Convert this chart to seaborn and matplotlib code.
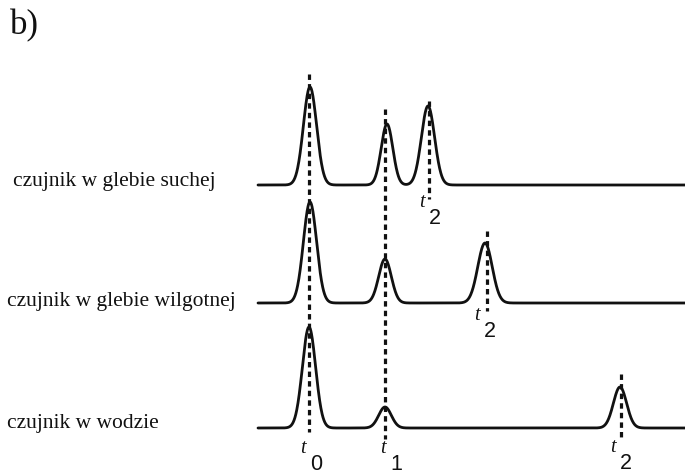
import numpy as np
import pandas as pd
import matplotlib
matplotlib.use("Agg")
import matplotlib.pyplot as plt
import seaborn as sns

# ---- data (time axis / signal level in picture units) ----
trace_labels = ["czujnik w glebie suchej", "czujnik w glebie wilgotnej", "czujnik w wodzie"]
baselines = [186, 304, 429]              # signal baseline of each trace
trace_start = [258, 258, 258]             # where each trace begins
trace_end = 685
peak_centers = [[310, 387, 428], [310, 385, 485], [309, 385, 620]]
peak_heights = [[98, 61, 79], [101, 44, 60], [101, 21, 41]]
peak_widths = [[6.6, 5.8, 6.6], [6.6, 6.3, 7.2], [6.6, 6.3, 6.6]]
t0_pos, t1_pos = 309, 385
t2_pos = [429, 487, 621]
t0_span = (75, 433)
t1_span = (110, 440)
t2_spans = [(102, 200), (232, 312), (375, 440)]
t_label_names = ["0", "1", "2"]

# ---- build the traces ----
rows = []
for i, lab in enumerate(trace_labels):
    x = np.linspace(trace_start[i], trace_end, 1400)
    y = np.full_like(x, baselines[i], dtype=float)
    for c, h, w in zip(peak_centers[i], peak_heights[i], peak_widths[i]):
        y = y - h * np.exp(-0.5 * ((x - c) / w) ** 2)
    rows.append(pd.DataFrame({"t": x, "signal": y, "trace": lab}))
df = pd.concat(rows, ignore_index=True)

sns.set_theme(style="white")
plt.rcParams["font.family"] = ["Liberation Serif", "DejaVu Serif"]

fig = plt.figure(figsize=(6.85, 4.77), dpi=100)
ax = fig.add_axes([0, 0, 1, 1])
sns.lineplot(data=df, x="t", y="signal", hue="trace", units="trace",
             estimator=None, sort=False, palette=["#111111"] * 3,
             linewidth=2.0, legend=False, ax=ax)

dash = (0, (1.7, 1.3))
ax.vlines(t0_pos, *t0_span, colors="#111111", linewidth=2.3, linestyles=[dash])
ax.vlines(t1_pos, *t1_span, colors="#111111", linewidth=2.3, linestyles=[dash])
for xp, sp in zip(t2_pos, t2_spans):
    ax.vlines(xp, *sp, colors="#111111", linewidth=2.3, linestyles=[dash])

ax.set_xlim(0, 685)
ax.set_ylim(477, 0)
ax.axis("off")

# trace labels
label_x = [13, 7, 7]
label_y = [182, 302, 424]
for lab, lx, ly in zip(trace_labels, label_x, label_y):
    ax.text(lx, ly, lab, fontsize=15.5, ha="left", va="center", color="#111111")

# time markers
def tlabel(x, y, sub):
    ax.text(x, y, "t", fontsize=14.5, style="italic", ha="center", va="center",
            color="#111111")
    ax.text(x + 13, y + 16, sub, fontsize=15.5, ha="center", va="center",
            color="#111111", family="Liberation Sans")

tlabel(303, 449, t_label_names[0])
tlabel(383, 449, t_label_names[1])
tlabel(422, 203, t_label_names[2])
tlabel(477, 316, t_label_names[2])
tlabel(613, 448, t_label_names[2])

ax.text(10, 26, "b)", fontsize=25, ha="left", va="center", color="#111111")

fig.savefig("out.png", dpi=100)
